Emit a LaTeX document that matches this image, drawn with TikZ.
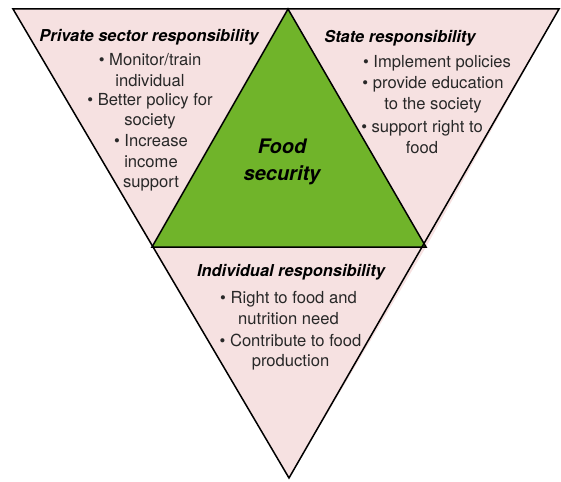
\documentclass[tikz,border=0pt]{standalone}
\usepackage{fontspec}
\setmainfont{TeX Gyre Heros}
\begin{document}
\begin{tikzpicture}[x=1pt,y=-1pt,
  pinkfill/.style={fill={rgb,255:red,246;green,225;blue,225}},
  greenfill/.style={fill={rgb,255:red,112;green,180;blue,42}},
  edge/.style={draw=black,line width=1.5pt,line join=miter},
  heading/.style={font=\fontsize{16.4}{20}\selectfont\bfseries\itshape,text=black,inner sep=0pt},
  item/.style={font=\fontsize{16.6}{20.5}\selectfont,text={rgb,255:red,40;green,40;blue,40},align=center,inner sep=0pt},
  centre/.style={font=\fontsize{20}{27}\selectfont\bfseries\itshape,text=black,align=center,inner sep=0pt}]
\useasboundingbox (0,0) rectangle (561,481);

% corner points of the four triangles
\coordinate (tl) at (13,9);
\coordinate (tm) at (288,9);
\coordinate (tr) at (559,9);
\coordinate (ml) at (152,247);
\coordinate (mr) at (426,247);
\coordinate (bt) at (289,478);

% pink responsibility triangles and the green core
\path[pinkfill] (tl) -- (tm) -- (ml) -- cycle;
\path[pinkfill] (tm) -- (tr) -- (mr) -- cycle;
\path[pinkfill] (ml) -- (mr) -- (bt) -- cycle;
\path[greenfill] (tm) -- (ml) -- (mr) -- cycle;

% outlines
\draw[edge] (tl) -- (tr) -- (bt) -- cycle;
\draw[edge] (ml) -- (tm) -- (mr) -- cycle;

% centre
\node[centre] (core) at (282,161.5) {Food\\security};

% private sector
\node[heading] (priv) at (149,37) {Private sector responsibility};
\node[item] (priv1) at (150,70) {• Monitor/train\\individual};
\node[item] (priv2) at (150,111) {• Better policy for\\society};
\node[item] (priv3) at (151,163) {• Increase\\income\\support};

% state
\node[heading] (state) at (400,38) {State responsibility};
\node[item] (state1) at (437,63) {• Implement policies};
\node[item] (state2) at (433,95) {• provide education\\to the society};
\node[item] (state3) at (422,137) {• support right to\\food};

% individual
\node[heading] (indiv) at (291,272) {Individual responsibility};
\node[item] (indiv1) at (288.5,308) {• Right to food and\\nutrition need};
\node[item] (indiv2) at (290.5,352) {• Contribute to food\\production};
\end{tikzpicture}
\end{document}
